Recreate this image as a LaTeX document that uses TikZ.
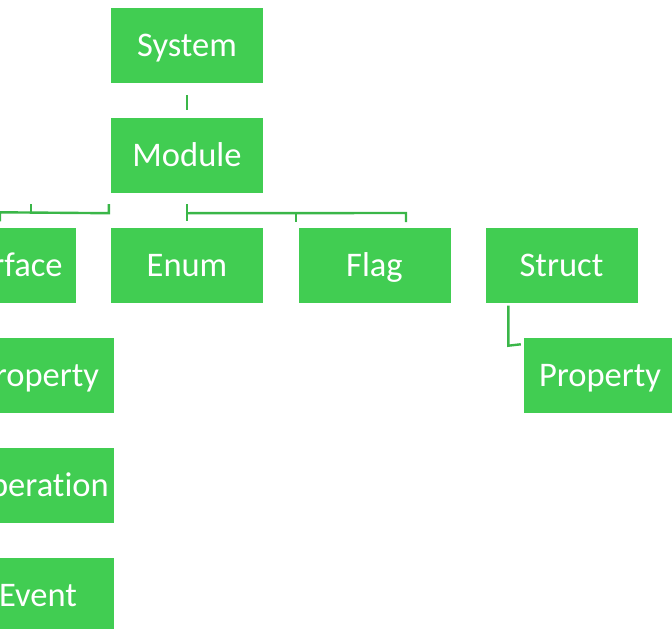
\documentclass[tikz,border=0pt]{standalone}
\usepackage{fontspec}
\setmainfont[Ligatures=NoCommon]{Carlito}
\usetikzlibrary{calc}
\definecolor{boxgreen}{RGB}{65,205,82}
\definecolor{linegreen}{RGB}{58,182,72}
\begin{document}
\begin{tikzpicture}[x=1pt,y=-1pt,
  box/.style={fill=boxgreen, minimum width=152pt, minimum height=75pt,
    inner sep=0pt, text=white, text height=22pt, text depth=0pt,
    font=\fontsize{34.5}{40}\selectfont},
  link/.style={draw=linegreen, line width=2.4pt, line join=miter}]
\useasboundingbox (0,0) rectangle (672,629);
\clip (0,0) rectangle (672,629);

% boxes
\node[box] (sys)    at (187,45.5)  {System};
\node[box] (mod)    at (187,155.5) {Module};
\node[box] (intf)   at (0,265)     {Interface};
\node[box] (enum)   at (187,265)   {Enum};
\node[box] (flag)   at (374.5,265) {Flag};
\node[box] (struct) at (561.5,265) {Struct};
\node[box] (sprop)  at (600,375)   {Property};
\node[box] (iprop)  at (38,375)    {Property};
\node[box] (iop)    at (38,485)    {Operation};
\node[box] (iev)    at (38,595)    {Event};

% System -> Module
\draw[link] ($(sys.south)+(0,12)$) -- ($(mod.north)+(0,-8)$);

% left branch of the module bus
\coordinate (lA) at ($(intf.north)+(0,-15)$);
\coordinate (lB) at ($(intf.north)+(0,-6)$);
\coordinate (lC) at (31,204);
\coordinate (lD) at (31,213);
\coordinate (lE) at ($(mod.south west)+(-2,11)$);
\coordinate (lF) at ($(mod.south west)+(-2,20)$);
\draw[link] (lB) -- (lA) -- (lF) -- (lE);
\draw[link] (lD) -- (lC);

% right branch of the module bus
\coordinate (rA) at ($(mod.south)+(0,11)$);
\coordinate (rB) at ($(enum.north)+(0,-6)$);
\coordinate (rM) at ($(mod.south)+(0,20)$);
\coordinate (rC) at (296,213);
\coordinate (rD) at (296,222);
\coordinate (rE) at (406,213);
\coordinate (rF) at (406,222);
\draw[link] (rA) -- (rB);
\draw[link] (rM) -- (rE) -- (rF);
\draw[link] (rC) -- (rD);

% Struct -> Property
\coordinate (sA) at ($(struct.south west)+(23,3)$);
\coordinate (sB) at ($(struct.south west)+(23,43)$);
\coordinate (sC) at ($(sprop.north west)+(-3,7)$);
\draw[link] (sA) -- (sB) -- (sC);
\end{tikzpicture}
\end{document}
